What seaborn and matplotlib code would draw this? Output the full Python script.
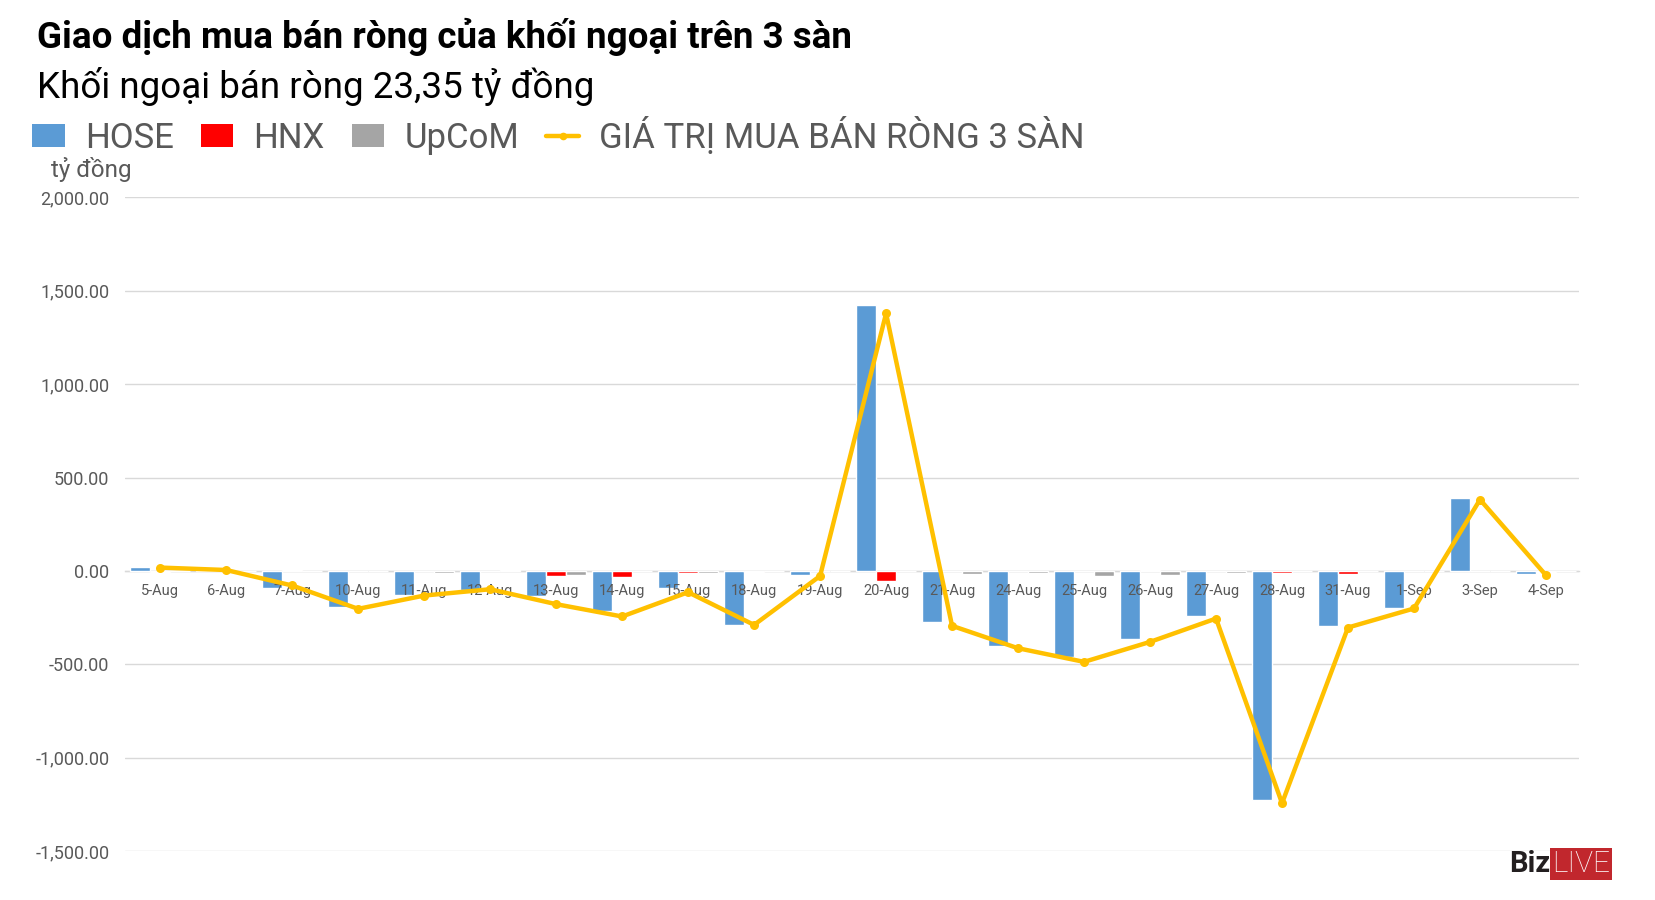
import numpy as np
import pandas as pd
import matplotlib
matplotlib.use("Agg")
import matplotlib.pyplot as plt
import seaborn as sns
from matplotlib.patches import Patch
from matplotlib.lines import Line2D
from matplotlib.ticker import FuncFormatter

dates = ['5-Aug', '6-Aug', '7-Aug', '10-Aug', '11-Aug', '12-Aug', '13-Aug', '14-Aug',
         '15-Aug', '18-Aug', '19-Aug', '20-Aug', '21-Aug', '24-Aug', '25-Aug', '26-Aug',
         '27-Aug', '28-Aug', '31-Aug', '1-Sep', '3-Sep', '4-Sep']
hose = [23, 6, -89, -191, -127, -102, -134, -212, -89, -287, -20, 1423, -271, -400,
        -460, -362, -239, -1228, -293, -196, 388, -15]
hnx = [-5, 1, 5, -3, 2, -3, -27, -30, -10, -5, -3, -52, -3, -3, -3, 3, -3, -10, -18,
       -3, -3, -7]
upcom = [-3, -2, -2, -3, -12, 3, -20, -3, -10, -2, -2, -3, -16, -12, -27, -21, -10,
         -3, -2, -2, -3, -1.35]
total = [18, 5, -78, -203, -132, -98, -178, -244, -114, -289, -27, 1379, -294, -414,
         -487, -380, -255, -1244, -303, -201, 382, -23.35]

series_names = ['HOSE', 'HNX', 'UpCoM']
line_name = 'GIÁ TRỊ MUA BÁN RÒNG 3 SÀN'
colors = {'HOSE': '#5B9BD5', 'HNX': '#FF0000', 'UpCoM': '#A5A5A5'}
line_color = '#FFC000'
text_gray = '#595959'
grid_gray = '#D9D9D9'

sns.set_theme(style='white')
plt.rcParams['font.family'] = ['Roboto', 'DejaVu Sans']

n = len(dates)
df = pd.DataFrame({
    'date': dates * 3,
    'value': hose + hnx + upcom,
    'san': ['HOSE'] * n + ['HNX'] * n + ['UpCoM'] * n,
})

fig = plt.figure(figsize=(16.56, 9), dpi=100)
ax = fig.add_axes([0.0752, 0.0544, 0.8783, 0.7262])

sns.barplot(data=df, x='date', y='value', hue='san', order=dates,
            hue_order=series_names, palette=colors, width=0.9, saturation=1,
            errorbar=None, legend=False, ax=ax, zorder=1)
sns.lineplot(x=np.arange(n), y=total, color=line_color, linewidth=3.2,
             marker='o', markersize=6.5, markeredgewidth=0, ax=ax, zorder=5)

ax.set_ylim(-1500, 2000)
ax.set_yticks(np.arange(-1500, 2001, 500))
ax.yaxis.set_major_formatter(FuncFormatter(lambda v, p: f'{v:,.2f}'))
ax.set_xlim(-0.54, n - 0.5)
ax.set_xlabel('')
ax.set_ylabel('')

ax.set_axisbelow(True)
ax.yaxis.grid(True, color=grid_gray, linewidth=1)
ax.xaxis.grid(False)
for s in ['top', 'right', 'left']:
    ax.spines[s].set_visible(False)
ax.spines['bottom'].set_position(('data', 0))
ax.spines['bottom'].set_color(grid_gray)
ax.spines['bottom'].set_linewidth(1)
ax.spines['bottom'].set_zorder(0.6)
ax.xaxis.set_zorder(2)

ax.tick_params(axis='x', length=0, pad=9.5, labelsize=10.5, labelcolor=text_gray)
ax.tick_params(axis='y', length=0, pad=11, labelsize=13, labelcolor=text_gray)

fig.text(0.0223, 0.959, 'Giao dịch mua bán ròng của khối ngoại trên 3 sàn',
         fontsize=26.5, fontweight='bold', color='black', va='center', ha='left')
fig.text(0.0223, 0.904, 'Khối ngoại bán ròng 23,35 tỷ đồng',
         fontsize=26.5, color='black', va='center', ha='left')
fig.text(0.0308, 0.812, 'tỷ đồng', fontsize=17.5, color=text_gray, va='center', ha='left')

handles = [Patch(facecolor=colors[s], edgecolor='none') for s in series_names]
handles.append(Line2D([0], [0], color=line_color, linewidth=3.2, marker='o',
                      markersize=5.5, markeredgewidth=0))
fig.legend(handles, series_names + [line_name], loc='center left',
           bbox_to_anchor=(0.0193, 0.849), ncol=4, frameon=False, fontsize=25,
           handlelength=0.94, handleheight=0.62, handletextpad=0.58,
           columnspacing=0.78, borderpad=0, borderaxespad=0, labelcolor=text_gray)

fig.text(0.9360, 0.040, 'Biz', fontsize=21, fontweight='bold', color='#231F20',
         va='center', ha='right')
fig.text(0.9372, 0.040, 'LIVE', fontsize=21.5, fontweight='light', color='white',
         va='center', ha='left',
         bbox=dict(facecolor='#C1272D', edgecolor='none', pad=1.8))

fig.savefig('out.png', dpi=100)
